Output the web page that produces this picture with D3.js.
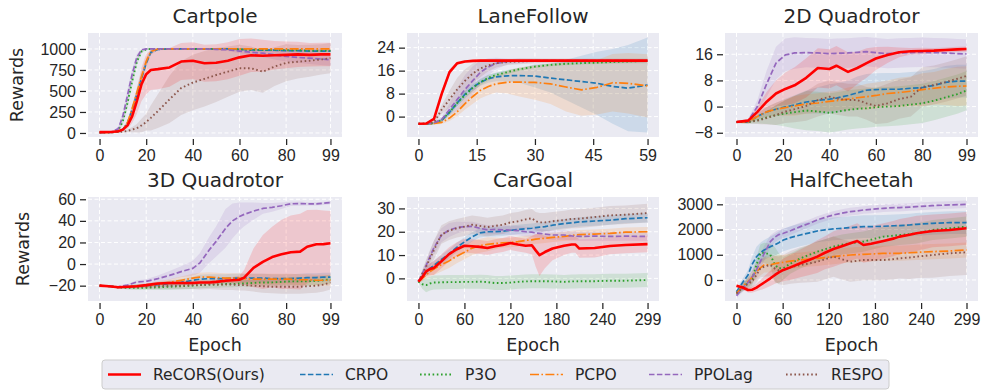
<!DOCTYPE html>
<html>
  <head>
    <meta charset="utf-8">
    <title>Rewards per epoch</title>
    <script src="https://cdn.jsdelivr.net/npm/d3@7"></script>
    <style>
      body { margin: 0; background: #fff; }
      svg { display: block; font-family: "DejaVu Sans", sans-serif; }
      .grid line { stroke: #fff; stroke-width: 1; stroke-dasharray: 4,2.5; }
      .axis text { font-size: 16px; fill: #262626; }
      .axis line { stroke: #262626; stroke-width: 1.25; }
    </style>
  </head>

  <body>
    <svg id="chart" width="981" height="392"></svg>

    <script>
      // methods, in legend order
      methods = ["ReCORS(Ours)", "CRPO", "P3O", "PCPO", "PPOLag", "RESPO"];

      // tick labels
      xTicks99 = [0, 20, 40, 60, 80, 99];
      xTicks59 = [0, 15, 30, 45, 59];
      xTicks299 = [0, 60, 120, 180, 240, 299];

      // Cartpole
      cartEpochs = [0, 5, 8, 10, 12, 14, 16, 18, 20, 22, 25, 30, 35, 40, 45, 50, 55, 60, 65, 70, 75, 80, 85, 90, 95, 99];
      cartYTicks = [0, 250, 500, 750, 1000];
      cartYRange = [-48, 1190];
      cartReCORS = [10, 12, 20, 40, 90, 200, 380, 580, 700, 750, 760, 780, 850, 860, 830, 835, 860, 900, 925, 920, 925, 930, 935, 930, 935, 935];
      cartReCORSSd = [5, 5, 10, 20, 40, 80, 150, 200, 240, 240, 240, 230, 220, 220, 220, 220, 220, 220, 200, 190, 170, 160, 150, 140, 140, 140];
      cartCRPO = [5, 6, 15, 40, 120, 280, 460, 650, 830, 960, 995, 1000, 1000, 1000, 1000, 1000, 1000, 995, 990, 985, 985, 980, 980, 975, 975, 975];
      cartCRPOSd = [3, 3, 8, 15, 30, 50, 60, 60, 50, 30, 10, 8, 8, 8, 10, 10, 10, 12, 15, 15, 15, 15, 15, 15, 15, 15];
      cartP3O = [5, 8, 30, 140, 360, 620, 850, 970, 995, 1000, 1000, 1000, 1000, 1000, 1000, 1000, 1000, 995, 990, 990, 990, 985, 985, 980, 980, 980];
      cartP3OSd = [3, 4, 15, 40, 60, 60, 40, 20, 8, 5, 5, 5, 5, 5, 5, 5, 5, 8, 10, 10, 10, 12, 12, 12, 12, 12];
      cartPCPO = [5, 6, 15, 40, 125, 290, 480, 670, 850, 970, 1000, 1000, 1000, 1000, 1000, 1000, 1000, 1000, 1000, 1000, 1000, 1000, 1000, 1000, 1000, 1000];
      cartPCPOSd = [3, 3, 8, 15, 30, 50, 60, 60, 50, 30, 8, 5, 5, 5, 5, 5, 5, 5, 5, 5, 5, 5, 5, 5, 5, 5];
      cartPPOLag = [5, 10, 50, 200, 450, 700, 900, 990, 1000, 1000, 1000, 1000, 1000, 1000, 1000, 995, 990, 975, 960, 950, 930, 910, 900, 890, 880, 870];
      cartPPOLagSd = [3, 5, 20, 50, 70, 60, 40, 15, 5, 5, 5, 5, 5, 5, 5, 10, 15, 25, 35, 45, 55, 60, 65, 70, 70, 70];
      cartRESPO = [8, 8, 10, 15, 25, 40, 56, 90, 130, 180, 260, 400, 535, 600, 645, 690, 730, 770, 770, 730, 790, 835, 848, 860, 875, 890];
      cartRESPOSd = [5, 5, 5, 10, 15, 30, 50, 80, 100, 150, 200, 280, 320, 330, 330, 320, 300, 280, 260, 250, 230, 220, 200, 190, 180, 180];

      // LaneFollow
      laneEpochs = [0, 2, 4, 6, 8, 10, 12, 14, 16, 18, 20, 23, 26, 30, 34, 38, 42, 46, 50, 54, 59];
      laneYTicks = [0, 8, 16, 24];
      laneYRange = [-7.1, 29.1];
      laneReCORS = [-2.5, -2.4, -0.8, 8, 15.5, 18.6, 19.2, 19.4, 19.5, 19.5, 19.5, 19.5, 19.5, 19.5, 19.5, 19.5, 19.5, 19.5, 19.5, 19.5, 19.5];
      laneReCORSSd = [0.3, 0.3, 0.6, 1.2, 1, 0.6, 0.4, 0.4, 0.4, 0.4, 0.4, 0.4, 0.4, 0.4, 0.4, 0.4, 0.4, 0.4, 0.4, 0.4, 0.4];
      laneCRPO = [-2.5, -2.5, -2.3, -1.2, 1.5, 4.8, 7.8, 10.2, 12, 13.2, 13.8, 14.2, 14.3, 14.1, 13.4, 12.8, 12.2, 11.6, 10.5, 9.9, 11];
      laneCRPOSd = [0.3, 0.3, 0.4, 0.6, 1, 1.2, 1.3, 1.3, 1.3, 1.4, 1.5, 2, 2.5, 4, 5, 7, 9, 11, 13, 15, 16.5];
      laneP3O = [-2.5, -2.5, -2.3, -1.2, 1.5, 4.8, 7.5, 10, 12, 13.5, 14.5, 15.5, 16.5, 17.4, 18, 18.4, 18.6, 18.8, 19, 19.2, 19.4];
      laneP3OSd = [0.3, 0.3, 0.4, 0.6, 1, 1.2, 1.2, 1.2, 1, 1, 0.8, 0.7, 0.6, 0.5, 0.5, 0.5, 0.5, 0.5, 0.5, 0.5, 0.5];
      lanePCPO = [-2.5, -2.5, -2.4, -2, -0.5, 1.7, 4.5, 7, 9.2, 10.5, 11.4, 12, 12, 11.9, 11.4, 10.3, 9.3, 10.2, 11.8, 11.6, 10.7];
      lanePCPOSd = [0.3, 0.3, 0.4, 0.6, 1, 1.5, 2, 2.5, 2.8, 3, 3, 4, 5, 6, 7, 8.5, 9, 9.5, 10, 10.5, 11];
      lanePPOLag = [-2.5, -2.5, -2.2, -1, 2.5, 6, 9.5, 12.5, 15.5, 17.3, 18.5, 19.2, 19.4, 19.5, 19.5, 19.5, 19.5, 19.5, 19.5, 19.5, 19.5];
      lanePPOLagSd = [0.3, 0.3, 0.5, 1, 2, 4, 5, 5, 4, 3, 2, 1, 0.8, 0.6, 0.5, 0.5, 0.5, 0.5, 0.5, 0.5, 0.5];
      laneRESPO = [-2.5, -2.5, -2, 2.5, 6, 9.5, 12.5, 15, 16.8, 17.8, 18.6, 19, 19.2, 19.4, 19.4, 19.4, 19.4, 19.4, 19.4, 19.4, 19.4];
      laneRESPOSd = [0.3, 0.3, 0.5, 1.5, 3, 4, 4, 3.5, 3, 2, 1.5, 1, 1, 0.8, 0.8, 0.8, 0.8, 0.8, 0.8, 0.8, 0.8];

      // 2D Quadrotor
      quad2Epochs = [0, 5, 9, 13, 17, 21, 25, 30, 35, 40, 43, 48, 52, 56, 60, 65, 70, 75, 80, 85, 90, 95, 99];
      quad2YTicks = [-8, 0, 8, 16];
      quad2YRange = [-9.3, 22.5];
      quad2ReCORS = [-4.7, -4.3, -1.6, 1.5, 4, 5.4, 6.5, 8.8, 11.8, 11.5, 12.5, 10.6, 11.8, 13.3, 14.7, 15.8, 16.6, 16.9, 17, 17.1, 17.3, 17.5, 17.6];
      quad2ReCORSSd = [0.3, 0.5, 1.5, 3, 4, 5, 5.5, 6, 6, 6, 6, 6, 5, 4.5, 3.5, 2.5, 1.5, 1, 1, 0.8, 0.8, 0.8, 0.8];
      quad2CRPO = [-4.7, -4.7, -3, -1.6, -0.8, -0.1, 0.5, 1.4, 1.9, 2.3, 2.6, 3.4, 4.2, 5, 5.2, 5.3, 5.3, 5.6, 5.8, 6.5, 7.4, 7.8, 7.8];
      quad2CRPOSd = [0.3, 0.5, 1, 1.5, 2, 2.5, 3, 3.5, 4, 4.5, 4.5, 4.5, 5, 5, 5, 5, 5, 5, 5, 5, 5, 5, 5];
      quad2P3O = [-4.7, -4.7, -4.2, -3.3, -2.6, -2.1, -1.7, -1.2, -1.5, -1.9, -1.6, -1, -0.7, -0.5, -0.2, 0, 0.2, 0.6, 1, 1.8, 2.8, 3.8, 4.9];
      quad2P3OSd = [0.3, 0.5, 1, 2, 3, 4, 5, 6, 6, 6, 6, 6, 6, 6, 6, 6, 6, 6, 6, 6, 6, 6, 6];
      quad2PCPO = [-4.7, -4.7, -3, -1.6, -0.8, -0.3, 0.2, 0.8, 1.1, 1.6, 1.8, 2.3, 2.7, 3, 3.4, 4, 4.3, 4.7, 5.2, 5.6, 6, 6.2, 6.3];
      quad2PCPOSd = [0.3, 0.5, 1, 1.5, 2, 2.5, 3, 3, 3, 3, 3, 3.5, 3.5, 4, 4, 4, 4.5, 4.5, 5, 5, 5.5, 6, 6];
      quad2PPOLag = [-4.7, -4.3, 0, 7, 13.3, 15.8, 16.4, 16.5, 16.4, 16.2, 16.3, 16.4, 16.6, 16.8, 16.5, 16.2, 16.4, 16.5, 16.6, 16.5, 16.4, 16.2, 16.1];
      quad2PPOLagSd = [0.3, 0.5, 2, 4, 5, 5, 4.8, 4.5, 4.5, 4.5, 4.5, 4.5, 4.5, 4.5, 4.5, 4.5, 4.5, 4.5, 4.5, 4.5, 4.5, 4.5, 4.5];
      quad2RESPO = [-4.7, -4.7, -4.3, -3.5, -2.6, -1.5, -0.8, 0.2, 2, 3, 2.5, 2, 2, 1, 0.2, 1, 2.3, 3, 6, 6.6, 7.5, 8.5, 9.4];
      quad2RESPOSd = [0.3, 0.5, 1, 2, 3, 3.5, 4, 4.5, 5, 5, 5, 5, 5, 5, 5.5, 6, 6, 6, 6, 6, 6, 6, 6];

      // 3D Quadrotor
      quad3Epochs = [0, 4, 8, 12, 16, 20, 25, 30, 35, 40, 43, 47, 50, 54, 57, 60, 62, 66, 70, 74, 78, 82, 86, 89, 93, 96, 99];
      quad3YTicks = [-20, 0, 20, 40, 60];
      quad3YRange = [-34.2, 62.1];
      quad3ReCORS = [-20, -20.5, -21.5, -21, -20.5, -19.5, -18, -17.5, -17.5, -17.5, -17, -17, -16.5, -15.5, -15, -14.5, -12.5, -3.5, 2, 6.5, 9, 10.9, 11.5, 16, 18.3, 18.5, 19.2];
      quad3ReCORSSd = [0.5, 0.5, 0.5, 1, 1, 1.5, 1.5, 2, 2, 2, 2, 2, 2, 2.5, 3, 4, 7, 18, 25, 28, 32, 34, 35, 34, 32, 31, 30];
      quad3CRPO = [-20, -20.5, -21.5, -21, -20.5, -20, -19, -18, -17, -15, -14, -13.5, -13.5, -13.5, -13, -13, -13, -13, -13, -13.5, -13.5, -13.5, -13, -12.5, -12.5, -12, -12];
      quad3CRPOSd = [0.5, 1, 1, 1.5, 2, 2, 2.5, 3, 3, 3.5, 4, 4, 4, 4, 4, 4, 4, 4, 4, 4, 4, 4, 4, 4, 4, 4, 4];
      quad3P3O = [-20, -20.5, -21.5, -22, -22, -22, -21.5, -21, -20.5, -20, -19.5, -19, -19, -18.5, -18.5, -18, -18, -17.5, -17, -17, -16.5, -16, -16, -16, -15.5, -15, -14];
      quad3P3OSd = [0.5, 1, 1, 1.5, 2, 2, 2.5, 3, 3, 3, 3, 3, 3, 3, 3, 3, 3, 3.5, 3.5, 3.5, 4, 4, 4, 4, 4, 4, 4];
      quad3PCPO = [-20, -20.5, -21.5, -21, -20.5, -20, -18.5, -17, -15, -13, -12, -12, -12.5, -13, -13, -13, -13.5, -14, -14, -14, -14, -14, -14.5, -14.5, -15, -15, -15];
      quad3PCPOSd = [0.5, 1, 1, 1.5, 2, 2, 2.5, 3, 3.5, 4, 4, 4.5, 4.5, 4.5, 4.5, 4.5, 4.5, 5, 5, 5, 5, 5, 5, 5, 5, 5, 5];
      quad3PPOLag = [-20, -20.5, -21, -19.5, -16.5, -16, -13.5, -10.5, -7, -4, 1, 13, 21, 33, 40, 44, 46, 49, 51.5, 52.5, 54, 55.8, 56, 55.8, 55.8, 56.3, 57];
      quad3PPOLagSd = [0.5, 0.5, 1, 1, 1.5, 2, 3, 4, 5, 7, 9, 12, 14, 18, 16, 13, 11, 8, 5, 4, 3, 2, 2, 1.5, 1.5, 1.5, 1.5];
      quad3RESPO = [-20, -20.5, -21.5, -21.5, -21, -21, -20.5, -20, -20, -19.5, -19.5, -19, -19, -19, -19, -19.5, -19.5, -20, -20.5, -21, -21, -21, -21, -20.5, -20, -19, -17];
      quad3RESPOSd = [0.5, 1, 1, 1.5, 2, 2, 2.5, 3, 3, 3.5, 4, 4, 4.5, 5, 5, 5, 5, 5.5, 6, 6, 6.5, 6.5, 6.5, 6.5, 6.5, 6.5, 6.5];

      // CarGoal
      carEpochs = [0, 5, 10, 15, 20, 30, 40, 50, 60, 70, 80, 90, 100, 110, 120, 130, 140, 148, 153, 158, 165, 175, 190, 200, 205, 210, 230, 250, 270, 299];
      carYTicks = [0, 10, 20, 30];
      carYRange = [-9.7, 34.9];
      carReCORS = [-1.4, 0.5, 3, 4, 4.5, 7.3, 10.4, 12.5, 14, 13.8, 13.5, 13, 13.8, 14.3, 15.2, 14.5, 14, 14.2, 12, 10, 11.3, 12.8, 14, 14.5, 14.5, 12.8, 13, 13.9, 14.3, 14.7];
      carReCORSSd = [0.5, 1.5, 2, 2.5, 3, 3, 3, 3, 3, 3, 3, 3, 3, 3, 3, 3, 3, 4, 7, 9, 7, 5, 4, 3.5, 3.5, 4, 4, 3.5, 3.5, 3.5];
      carCRPO = [-1.4, 1, 2.5, 4.3, 5.5, 8.1, 10.5, 13.3, 15.6, 17.8, 19.5, 20, 20, 20.2, 20.6, 21, 21.3, 21.5, 21.8, 22, 22.2, 22.8, 23.5, 23.8, 24, 24.2, 24.6, 25, 25.6, 26];
      carCRPOSd = [0.5, 1, 1.5, 2, 2, 2, 2, 2, 2, 2, 2, 2, 2, 2, 2, 2, 2, 2, 2, 2, 2, 2, 2, 2, 2, 2, 2, 2, 2, 2];
      carP3O = [-1.4, -2.5, -2.9, -2.2, -1.8, -1.7, -1.6, -1.6, -1.5, -1.5, -1.4, -1.6, -2, -2, -1.8, -1.5, -1.3, -1.2, -1.2, -1.2, -1.2, -1.3, -1.5, -1.3, -1.3, -1.2, -1.2, -1, -1, -0.7];
      carP3OSd = [0.5, 2, 3, 3, 3, 3, 3, 3, 3, 3, 3, 3, 3, 3, 3, 3, 3, 3, 3, 3, 3, 3, 3, 3, 3, 3, 3, 3, 3, 3];
      carPCPO = [-1.4, 0, 1.5, 2.9, 4, 5.9, 7.5, 9.5, 11.2, 13, 14, 14.6, 15, 15.2, 15.4, 15.8, 16.3, 16.5, 16.8, 17, 17.2, 17.6, 18, 18.4, 18.6, 18.8, 19, 19.3, 19.8, 20];
      carPCPOSd = [0.5, 1, 1.5, 2, 2.5, 3, 3, 3, 3, 3, 3, 3, 2.5, 2, 2, 2, 2, 2, 2, 2, 2, 2, 2, 2, 2, 2, 2, 2, 2, 2];
      carPPOLag = [-1.4, 2, 5.5, 9.3, 13, 18.5, 20.7, 21.8, 22.2, 22.3, 21.5, 20.8, 21, 20.8, 20.7, 20.5, 20, 19.8, 19.5, 19.3, 19, 18.6, 18.6, 18.2, 18.1, 18, 18.1, 18, 18.1, 18];
      carPPOLagSd = [0.5, 1.5, 2, 2.5, 3, 3, 3, 2.5, 2, 2, 2, 2, 2, 2, 2, 2, 2, 2, 2, 2, 2, 2, 2, 2, 2, 2, 2, 2, 2, 2];
      carRESPO = [-1.4, 2, 5, 8.6, 12, 18.8, 20.5, 21.5, 22.2, 23, 22.5, 22, 22.5, 23, 24, 24.5, 25.3, 25.8, 24.5, 24, 24, 24.5, 25, 25.5, 25.5, 25.6, 26.3, 27, 27.3, 28];
      carRESPOSd = [0.5, 1.5, 3, 3.5, 4, 4, 4, 4, 4, 4, 4, 4, 4, 4, 4, 4, 4, 4, 4, 4, 4, 4, 4, 4, 4, 4, 4, 4, 4, 4];

      // HalfCheetah
      cheetahEpochs = [0, 8, 15, 20, 26, 31, 36, 44, 50, 55, 61, 70, 83, 95, 105, 115, 126, 137, 148, 157, 165, 175, 191, 205, 212, 225, 234, 255, 277, 299];
      cheetahYTicks = [0, 1000, 2000, 3000];
      cheetahYRange = [-833, 3290];
      cheetahReCORS = [-225, -300, -397, -390, -300, -200, -100, 66, 200, 300, 397, 500, 661, 800, 925, 1080, 1229, 1340, 1454, 1547, 1388, 1440, 1547, 1650, 1719, 1790, 1851, 1943, 1983, 2049];
      cheetahReCORSSd = [50, 80, 100, 120, 150, 200, 250, 300, 350, 400, 450, 500, 550, 600, 650, 650, 700, 700, 700, 700, 700, 700, 700, 700, 700, 700, 700, 650, 650, 650];
      cheetahCRPO = [-463, -100, 198, 600, 920, 1080, 1190, 1322, 1400, 1480, 1586, 1680, 1785, 1870, 1943, 1990, 2023, 2050, 2075, 2095, 2116, 2116, 2130, 2150, 2155, 2180, 2208, 2247, 2274, 2274];
      cheetahCRPOSd = [100, 150, 200, 300, 400, 400, 400, 400, 420, 440, 450, 450, 450, 450, 450, 450, 450, 450, 450, 450, 450, 450, 450, 450, 450, 450, 450, 450, 450, 450];
      cheetahP3O = [-529, -300, -100, 0, 600, 1058, 1080, 1000, 600, 463, 470, 650, 859, 1000, 1124, 1220, 1322, 1400, 1454, 1490, 1520, 1600, 1719, 1760, 1785, 1820, 1851, 1983, 2049, 2116];
      cheetahP3OSd = [100, 150, 200, 250, 300, 350, 400, 450, 700, 600, 450, 400, 400, 400, 400, 400, 400, 400, 400, 400, 400, 400, 400, 400, 400, 400, 400, 400, 400, 400];
      cheetahPCPO = [-529, -250, -66, 100, 331, 480, 595, 600, 650, 680, 701, 750, 793, 830, 859, 890, 925, 960, 991, 1005, 1018, 1030, 1058, 1058, 1058, 1080, 1097, 1124, 1150, 1190];
      cheetahPCPOSd = [100, 150, 200, 250, 300, 300, 300, 300, 300, 300, 300, 300, 300, 300, 300, 300, 300, 300, 300, 300, 300, 300, 300, 300, 300, 300, 300, 300, 300, 300];
      cheetahPPOLag = [-621, -330, -100, 100, 400, 727, 1050, 1520, 1700, 1800, 1851, 1950, 2116, 2250, 2380, 2480, 2578, 2650, 2710, 2740, 2776, 2800, 2842, 2870, 2869, 2890, 2908, 2948, 2975, 3001];
      cheetahPPOLagSd = [100, 150, 200, 250, 300, 300, 300, 250, 200, 200, 180, 170, 160, 150, 150, 150, 150, 150, 150, 150, 150, 150, 150, 150, 150, 150, 150, 150, 150, 150];
      cheetahRESPO = [-529, -300, -150, -66, 200, 463, 530, 595, 450, 380, 397, 500, 595, 660, 727, 820, 925, 820, 727, 760, 793, 793, 793, 830, 859, 890, 925, 991, 1058, 1097];
      cheetahRESPOSd = [100, 150, 200, 250, 300, 350, 400, 450, 500, 550, 600, 650, 700, 750, 800, 800, 800, 800, 800, 800, 800, 800, 800, 800, 800, 850, 850, 900, 900, 900];

      // panels built from the arrays above
      panels = [
        { title: "Cartpole", epochs: cartEpochs, xTicks: xTicks99, yTicks: cartYTicks, yRange: cartYRange,
          means: [cartReCORS, cartCRPO, cartP3O, cartPCPO, cartPPOLag, cartRESPO],
          sds: [cartReCORSSd, cartCRPOSd, cartP3OSd, cartPCPOSd, cartPPOLagSd, cartRESPOSd] },
        { title: "LaneFollow", epochs: laneEpochs, xTicks: xTicks59, yTicks: laneYTicks, yRange: laneYRange,
          means: [laneReCORS, laneCRPO, laneP3O, lanePCPO, lanePPOLag, laneRESPO],
          sds: [laneReCORSSd, laneCRPOSd, laneP3OSd, lanePCPOSd, lanePPOLagSd, laneRESPOSd] },
        { title: "2D Quadrotor", epochs: quad2Epochs, xTicks: xTicks99, yTicks: quad2YTicks, yRange: quad2YRange,
          means: [quad2ReCORS, quad2CRPO, quad2P3O, quad2PCPO, quad2PPOLag, quad2RESPO],
          sds: [quad2ReCORSSd, quad2CRPOSd, quad2P3OSd, quad2PCPOSd, quad2PPOLagSd, quad2RESPOSd] },
        { title: "3D Quadrotor", epochs: quad3Epochs, xTicks: xTicks99, yTicks: quad3YTicks, yRange: quad3YRange,
          means: [quad3ReCORS, quad3CRPO, quad3P3O, quad3PCPO, quad3PPOLag, quad3RESPO],
          sds: [quad3ReCORSSd, quad3CRPOSd, quad3P3OSd, quad3PCPOSd, quad3PPOLagSd, quad3RESPOSd] },
        { title: "CarGoal", epochs: carEpochs, xTicks: xTicks299, yTicks: carYTicks, yRange: carYRange,
          means: [carReCORS, carCRPO, carP3O, carPCPO, carPPOLag, carRESPO],
          sds: [carReCORSSd, carCRPOSd, carP3OSd, carPCPOSd, carPPOLagSd, carRESPOSd] },
        { title: "HalfCheetah", epochs: cheetahEpochs, xTicks: xTicks299, yTicks: cheetahYTicks, yRange: cheetahYRange,
          means: [cheetahReCORS, cheetahCRPO, cheetahP3O, cheetahPCPO, cheetahPPOLag, cheetahRESPO],
          sds: [cheetahReCORSSd, cheetahCRPOSd, cheetahP3OSd, cheetahPCPOSd, cheetahPPOLagSd, cheetahRESPOSd] }
      ];

      // line styles per method
      colours = ["#ff0000", "#1f77b4", "#2ca02c", "#ff7f0e", "#9467bd", "#8c564b"];
      widths = [2.6, 1.7, 1.9, 1.7, 1.7, 1.9];
      dashes = [null, "5.5,2.4", "1.6,2.6", "9,2.4,1.6,2.4", "5.5,2.4", "1.6,2.6"];
      drawOrder = [1, 2, 3, 4, 5, 0];

      // layout
      cols = [[88, 342], [407, 659], [725, 978]];
      rows = [[33, 137], [197, 301]];
      minus = function(d) { return String(d).replace("-", "\u2212"); };

      svg = d3.select("#chart");

      panels.forEach(function(p, i) {
        let col = cols[i % 3], row = rows[Math.floor(i / 3)];
        let last = p.epochs[p.epochs.length - 1];

        let x = d3.scaleLinear()
          .domain([-0.05 * last, 1.05 * last])
          .range(col);
        let y = d3.scaleLinear()
          .domain(p.yRange)
          .range([row[1], row[0]]);

        let g = svg.append("g");

        g.append("clipPath")
            .attr("id", "clip" + i)
          .append("rect")
            .attr("x", col[0])
            .attr("y", row[0])
            .attr("width", col[1] - col[0])
            .attr("height", row[1] - row[0]);

        g.append("rect")
          .attr("x", col[0])
          .attr("y", row[0])
          .attr("width", col[1] - col[0])
          .attr("height", row[1] - row[0])
          .attr("fill", "#eaeaf2");

        // grid
        let grid = g.append("g").classed("grid", true);
        grid.selectAll(".gx")
            .data(p.xTicks)
          .enter().append("line")
            .attr("x1", x).attr("x2", x)
            .attr("y1", row[0]).attr("y2", row[1]);
        grid.selectAll(".gy")
            .data(p.yTicks)
          .enter().append("line")
            .attr("y1", y).attr("y2", y)
            .attr("x1", col[0]).attr("x2", col[1]);

        // series
        let plot = g.append("g").attr("clip-path", "url(#clip" + i + ")");
        drawOrder.forEach(function(m) {
          let pts = p.epochs.map(function(e, k) { return [e, p.means[m][k], p.sds[m][k]]; });
          plot.append("path")
            .datum(pts)
            .attr("fill", colours[m])
            .attr("fill-opacity", 0.15)
            .attr("d", d3.area()
              .x(function(d) { return x(d[0]); })
              .y0(function(d) { return y(d[1] - d[2]); })
              .y1(function(d) { return y(d[1] + d[2]); }));
        });
        drawOrder.forEach(function(m) {
          let pts = p.epochs.map(function(e, k) { return [e, p.means[m][k]]; });
          plot.append("path")
            .datum(pts)
            .attr("fill", "none")
            .attr("stroke", colours[m])
            .attr("stroke-width", widths[m])
            .attr("stroke-dasharray", dashes[m])
            .attr("stroke-linejoin", "round")
            .attr("d", d3.line()
              .x(function(d) { return x(d[0]); })
              .y(function(d) { return y(d[1]); }));
        });

        // axes
        g.append("g")
          .classed("axis", true)
          .attr("transform", "translate(0," + (row[1] + 2) + ")")
          .call(d3.axisBottom(x).tickValues(p.xTicks).tickSize(6).tickPadding(5).tickFormat(minus))
          .call(function(a) { a.select(".domain").remove(); })
          .selectAll("text").attr("font-family", null).attr("font-size", null);
        g.append("g")
          .classed("axis", true)
          .attr("transform", "translate(" + (col[0] - 2) + ",0)")
          .call(d3.axisLeft(y).tickValues(p.yTicks).tickSize(6).tickPadding(4).tickFormat(minus))
          .call(function(a) { a.select(".domain").remove(); })
          .selectAll("text").attr("font-family", null).attr("font-size", null);

        // labels
        g.append("text")
          .attr("x", (col[0] + col[1]) / 2)
          .attr("y", row[0] - 10.5)
          .attr("text-anchor", "middle")
          .attr("font-size", 20)
          .attr("fill", "#262626")
          .text(p.title);

        if (i % 3 == 0) {
          let lx = i == 0 ? 17 : 23;
          g.append("text")
            .attr("transform", "translate(" + lx + "," + (row[0] + row[1]) / 2 + ") rotate(-90)")
            .attr("text-anchor", "middle")
            .attr("dy", "0.35em")
            .attr("font-size", 17.5)
            .attr("fill", "#262626")
            .text("Rewards");
        }
        if (i >= 3) {
          g.append("text")
            .attr("x", (col[0] + col[1]) / 2)
            .attr("y", row[1] + 50)
            .attr("text-anchor", "middle")
            .attr("font-size", 17.5)
            .attr("fill", "#262626")
            .text("Epoch");
        }
      });

      // legend
      legendX = [108, 300, 420, 530, 649, 786];
      legend = svg.append("g");
      legend.append("rect")
        .attr("x", 102).attr("y", 360)
        .attr("width", 787).attr("height", 29)
        .attr("rx", 3)
        .attr("fill", "#eaeaf2")
        .attr("stroke", "#cccccc");
      items = legend.selectAll(".item")
          .data(methods)
        .enter().append("g")
          .attr("transform", function(d, i) { return "translate(" + legendX[i] + ",374.5)"; });
      items.append("line")
        .attr("x1", 0).attr("x2", 33)
        .attr("stroke", function(d, i) { return colours[i]; })
        .attr("stroke-width", function(d, i) { return widths[i]; })
        .attr("stroke-dasharray", function(d, i) { return dashes[i]; });
      items.append("text")
        .attr("x", 45)
        .attr("dy", "0.36em")
        .attr("font-size", 15.5)
        .attr("fill", "#262626")
        .text(function(d) { return d; });
    </script>
  </body>
</html>
